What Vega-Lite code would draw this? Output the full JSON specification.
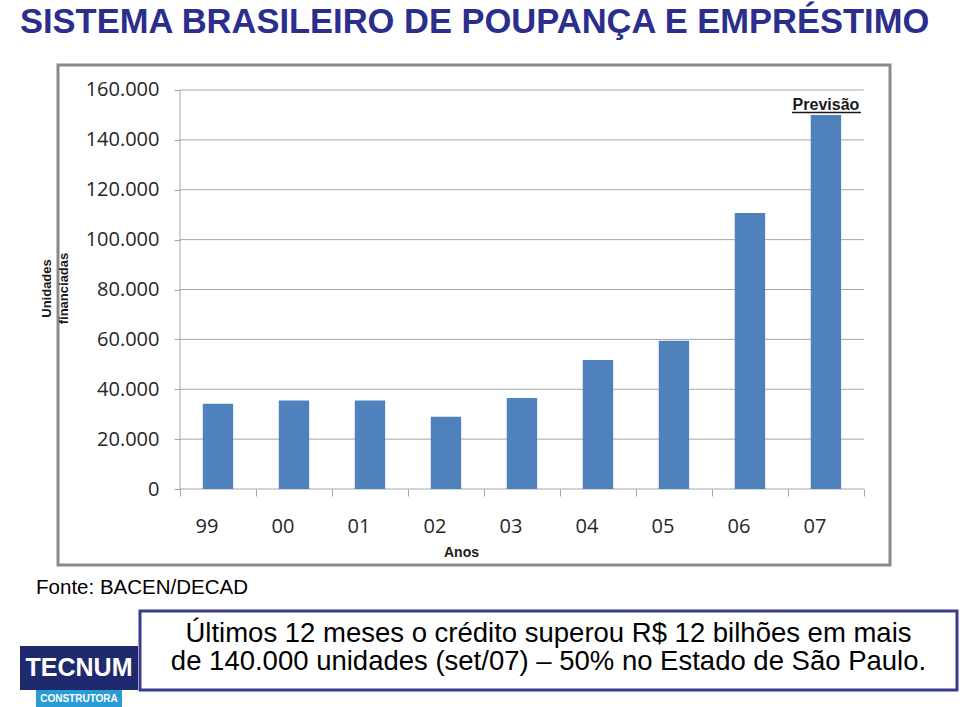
{
  "$schema": "https://vega.github.io/schema/vega-lite/v6.json",
  "background": "white",
  "padding": {"left": 18, "top": 3, "right": 0, "bottom": 0},
  "config": {"view": {"stroke": null}, "font": "Liberation Sans"},
  "datasets": {
    "bars": [
      {"year": "99", "value": 34200},
      {"year": "00", "value": 35500},
      {"year": "01", "value": 35500},
      {"year": "02", "value": 29000},
      {"year": "03", "value": 36500},
      {"year": "04", "value": 51700},
      {"year": "05", "value": 59400},
      {"year": "06", "value": 110700},
      {"year": "07", "value": 150000}
    ],
    "grid": [{"v": 0}, {"v": 20000}, {"v": 40000}, {"v": 60000}, {"v": 80000}, {"v": 100000}, {"v": 120000}, {"v": 140000}, {"v": 160000}],
    "box": [
      {"line": 1, "text": "Últimos 12 meses o crédito superou R$ 12 bilhões em mais"},
      {"line": 2, "text": "de 140.000 unidades (set/07) – 50% no Estado de São Paulo."}
    ]
  },
  "spacing": 7,
  "vconcat": [
    {
      "bounds": "flush",
      "spacing": 0,
      "hconcat": [
        {
          "width": 38, "height": 500,
          "data": {"values": [{"t": ""}]},
          "mark": {"type": "text"},
          "encoding": {"text": {"field": "t"}}
        },
        {
          "width": 832,
          "height": 500,
          "view": {"stroke": "#8a8a8a", "strokeWidth": 3, "fill": "white"},
          "title": {"text": "SISTEMA BRASILEIRO DE POUPANÇA E EMPRÉSTIMO", "anchor": "start", "frame": "group", "dx": -38, "offset": -2, "baseline": "alphabetic", "font": "Liberation Sans", "fontSize": 34.5, "fontWeight": "bold", "color": "#2b2e8c"},
          "layer": [
            {
              "data": {"name": "grid"},
              "mark": {"type": "rule", "color": "#a6a6a6", "strokeWidth": 1},
              "encoding": {
                "y": {"field": "v", "type": "quantitative", "scale": {"domain": [-30476, 170025], "nice": false, "zero": false}},
                "x": {"datum": "99", "type": "nominal", "bandPosition": 0, "scale": {"domain": ["99", "00", "01", "02", "03", "04", "05", "06", "07"], "paddingInner": 0, "paddingOuter": 0.974, "align": 0.824}},
                "x2": {"datum": "07", "bandPosition": 1}
              }
            },
            {
              "data": {"values": [{}]},
              "mark": {"type": "rule", "color": "#a6a6a6", "strokeWidth": 1},
              "encoding": {
                "x": {"datum": "99", "type": "nominal", "bandPosition": 0, "scale": {"domain": ["99", "00", "01", "02", "03", "04", "05", "06", "07"], "paddingInner": 0, "paddingOuter": 0.974, "align": 0.824}},
                "y": {"datum": 0, "type": "quantitative", "scale": {"domain": [-30476, 170025], "nice": false, "zero": false}},
                "y2": {"datum": 160000}
              }
            },
            {
              "data": {"name": "bars"},
              "mark": {"type": "bar", "color": "#4f81bd", "width": {"band": 0.4}},
              "encoding": {
                "x": {
                  "field": "year", "type": "nominal", "sort": null,
                  "scale": {"domain": ["99", "00", "01", "02", "03", "04", "05", "06", "07"], "paddingInner": 0, "paddingOuter": 0.974, "align": 0.824},
                  "axis": {"orient": "bottom", "offset": -76, "tickBand": "extent", "domain": false, "grid": false, "ticks": true, "tickSize": 7, "tickColor": "#a6a6a6", "labelAngle": 0, "labelFont": "Open Sans", "labelFontSize": 20, "labelColor": "#262626", "labelPadding": 30, "title": "Anos", "titleFont": "Liberation Sans", "titleFontSize": 14, "titleFontWeight": "bold", "titleColor": "#1a1a1a", "titleX": 403, "titleY": 63, "titleBaseline": "middle", "titleAlign": "center"}
                },
                "y": {
                  "field": "value", "type": "quantitative",
                  "scale": {"domain": [-30476, 170025], "nice": false, "zero": false},
                  "axis": {"orient": "left", "offset": -122, "values": [0, 20000, 40000, 60000, 80000, 100000, 120000, 140000, 160000], "labelExpr": "replace(format(datum.value, ','), ',', '.')", "domain": false, "grid": false, "ticks": true, "tickSize": 6, "tickColor": "#a6a6a6", "labelFont": "Open Sans", "labelFontSize": 20, "labelColor": "#262626", "labelPadding": 15, "title": ["Unidades", "financiadas"], "titleFont": "Liberation Sans", "titleFontSize": 13, "titleFontWeight": "bold", "titleColor": "#1a1a1a", "titleX": -134, "titleY": 223, "titleAngle": -90, "titleBaseline": "middle", "titleAlign": "center", "titleLineHeight": 17}
                },
                "y2": {"datum": 0}
              }
            },
            {
              "data": {"values": [{"label": "Previsão"}]},
              "mark": {"type": "text", "fontWeight": "bold", "fontSize": 16, "baseline": "alphabetic", "align": "center", "color": "#1a1a1a", "font": "Liberation Sans"},
              "encoding": {
                "x": {"datum": "07", "type": "nominal", "scale": {"domain": ["99", "00", "01", "02", "03", "04", "05", "06", "07"], "paddingInner": 0, "paddingOuter": 0.974, "align": 0.824}},
                "y": {"datum": 152000, "type": "quantitative", "scale": {"domain": [-30476, 170025], "nice": false, "zero": false}},
                "text": {"field": "label"}
              }
            },
            {
              "data": {"values": [{}]},
              "mark": {"type": "rule", "color": "#1a1a1a", "strokeWidth": 1.5},
              "encoding": {
                "x": {"datum": "07", "type": "nominal", "bandPosition": 0.053, "scale": {"domain": ["99", "00", "01", "02", "03", "04", "05", "06", "07"], "paddingInner": 0, "paddingOuter": 0.974, "align": 0.824}},
                "x2": {"datum": "07", "bandPosition": 0.96},
                "y": {"datum": 151000, "type": "quantitative", "scale": {"domain": [-30476, 170025], "nice": false, "zero": false}}
              }
            }
          ]
        }
      ]
    },
    {
      "width": 456, "height": 27.5,
      "data": {"values": [{"t": "Fonte: BACEN/DECAD"}]},
      "mark": {"type": "text", "align": "right", "baseline": "middle", "fontSize": 20.5, "color": "#000000", "font": "Liberation Sans"},
      "encoding": {"text": {"field": "t"}}
    },
    {
      "spacing": 0,
      "hconcat": [
        {
          "spacing": 0,
          "center": true,
          "vconcat": [
            {
              "width": 118, "height": 35,
              "data": {"values": [{"t": ""}]},
              "mark": {"type": "text"},
              "encoding": {"text": {"field": "t"}}
            },
            {
              "width": 118, "height": 44,
              "view": {"fill": "#1f2a6e", "stroke": null},
              "data": {"values": [{"t": "TECNUM"}]},
              "mark": {"type": "text", "color": "white", "fontWeight": "bold", "fontSize": 25, "font": "Liberation Sans", "baseline": "middle"},
              "encoding": {"text": {"field": "t"}}
            },
            {
              "width": 86, "height": 17,
              "view": {"fill": "#2b9bd6", "stroke": null},
              "data": {"values": [{"t": "CONSTRUTORA"}]},
              "mark": {"type": "text", "color": "white", "fontWeight": "bold", "fontSize": 10, "font": "Liberation Sans", "baseline": "middle"},
              "encoding": {"text": {"field": "t"}}
            }
          ]
        },
        {
          "width": 817, "height": 79,
          "view": {"stroke": "#3b3b8f", "strokeWidth": 3},
          "data": {"name": "box"},
          "mark": {"type": "text", "fontSize": 27.5, "baseline": "alphabetic", "color": "#000000", "font": "Liberation Sans"},
          "encoding": {
            "y": {"field": "line", "type": "ordinal", "axis": null, "scale": {"range": [31, 59], "padding": 0}},
            "text": {"field": "text"}
          }
        }
      ]
    }
  ]
}
